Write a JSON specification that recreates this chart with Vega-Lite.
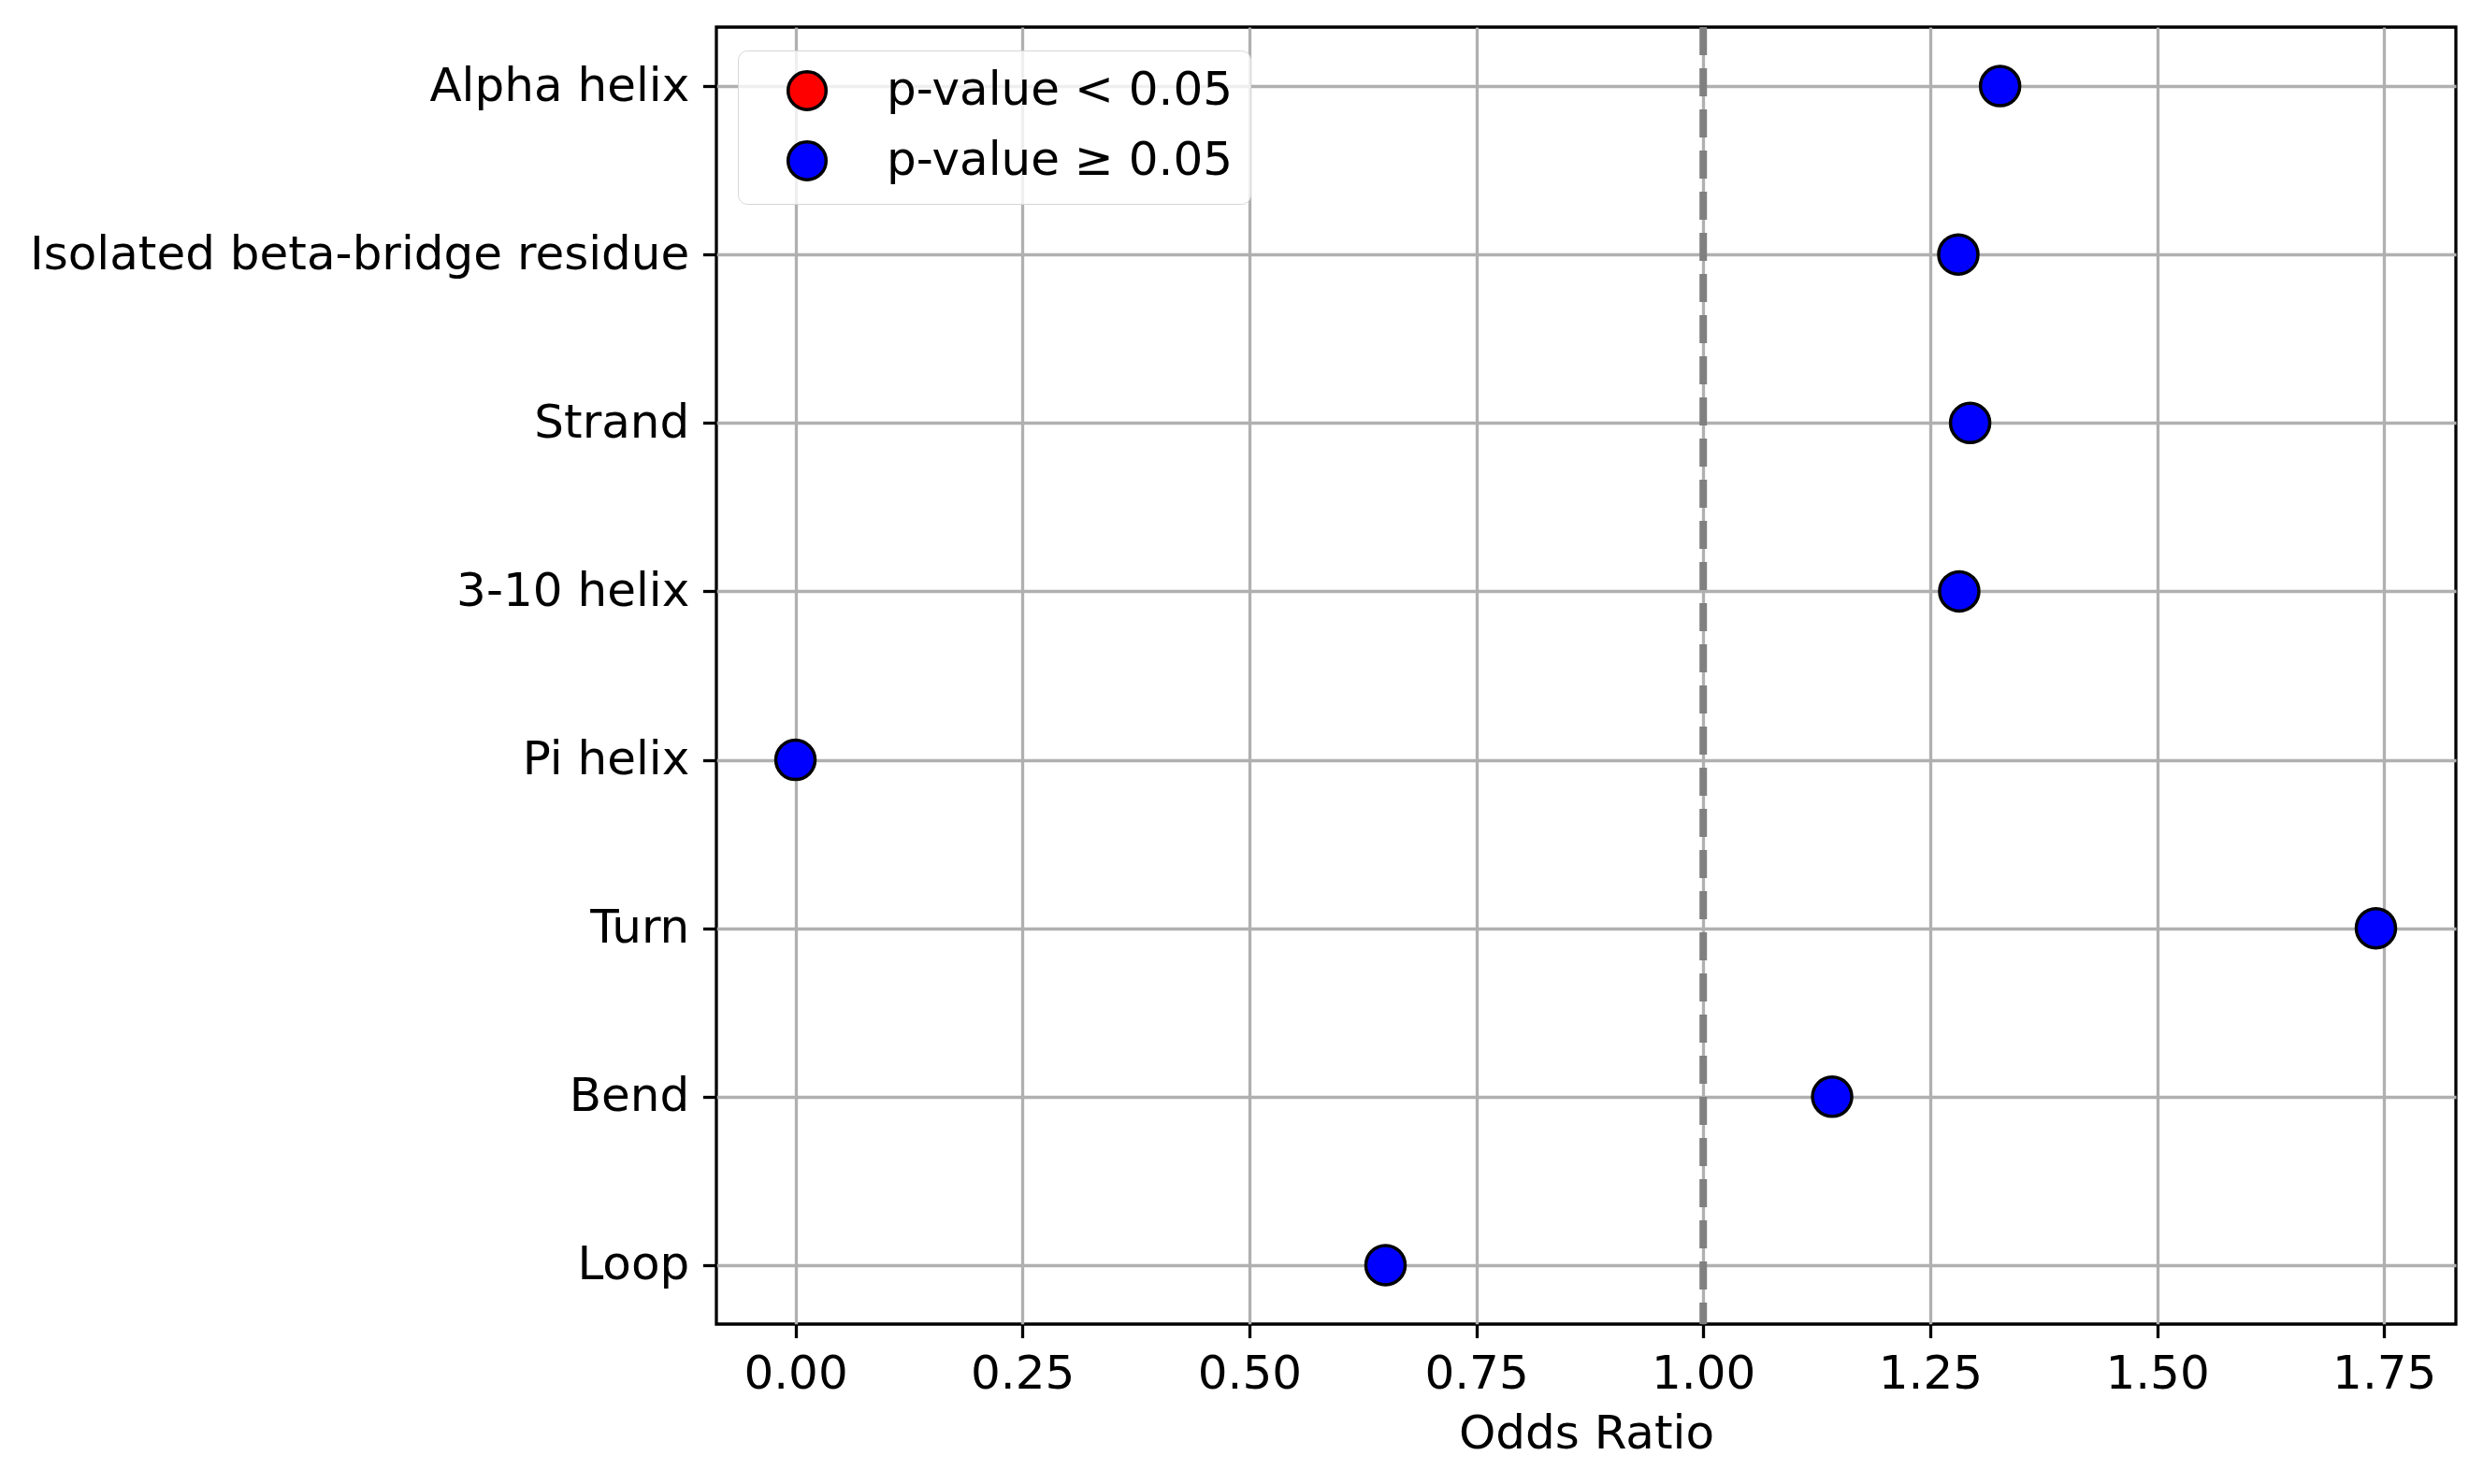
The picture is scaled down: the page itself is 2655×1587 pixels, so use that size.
{
  "$schema": "https://vega.github.io/schema/vega-lite/v6.json",
  "width": 1860,
  "height": 1387,
  "autosize": {"type": "none"},
  "padding": {"left": 766, "top": 29, "right": 29, "bottom": 171},
  "background": "white",
  "config": {
    "font": "DejaVu Sans",
    "view": {"stroke": "black", "strokeWidth": 3.3},
    "axis": {
      "domain": false,
      "grid": true,
      "gridColor": "#b0b0b0",
      "gridWidth": 3.3,
      "tickColor": "black",
      "tickWidth": 3.3,
      "tickSize": 14.6,
      "labelFont": "DejaVu Sans",
      "labelFontSize": 50,
      "labelColor": "black",
      "labelLimit": 0,
      "titleFont": "DejaVu Sans",
      "titleFontSize": 50,
      "titleFontWeight": "normal",
      "titleColor": "black",
      "zindex": 1
    }
  },
  "layer": [
    {
      "data": {"values": [{"ref": 1}]},
      "mark": {"type": "rule", "color": "#808080", "strokeWidth": 8, "strokeDash": [30, 14]},
      "encoding": {
        "x": {"field": "ref", "type": "quantitative"}
      }
    },
    {
      "data": {
        "values": [
          {"structure": "Alpha helix", "odds_ratio": 1.327, "significance": "p-value ≥ 0.05"},
          {"structure": "Isolated beta-bridge residue", "odds_ratio": 1.281, "significance": "p-value ≥ 0.05"},
          {"structure": "Strand", "odds_ratio": 1.294, "significance": "p-value ≥ 0.05"},
          {"structure": "3-10 helix", "odds_ratio": 1.282, "significance": "p-value ≥ 0.05"},
          {"structure": "Pi helix", "odds_ratio": 0.0, "significance": "p-value ≥ 0.05"},
          {"structure": "Turn", "odds_ratio": 1.741, "significance": "p-value ≥ 0.05"},
          {"structure": "Bend", "odds_ratio": 1.142, "significance": "p-value ≥ 0.05"},
          {"structure": "Loop", "odds_ratio": 0.65, "significance": "p-value ≥ 0.05"}
        ]
      },
      "mark": {"type": "point", "shape": "circle", "filled": true, "size": 1764, "stroke": "black", "strokeWidth": 3.5, "opacity": 1},
      "encoding": {
        "x": {
          "field": "odds_ratio",
          "type": "quantitative",
          "title": "Odds Ratio",
          "scale": {"domain": [-0.0871, 1.8291], "nice": false, "zero": false},
          "axis": {"values": [0, 0.25, 0.5, 0.75, 1, 1.25, 1.5, 1.75], "format": ".2f", "labelPadding": 14, "titlePadding": 14, "labelFlush": false}
        },
        "y": {
          "field": "structure",
          "type": "nominal",
          "sort": ["Alpha helix", "Isolated beta-bridge residue", "Strand", "3-10 helix", "Pi helix", "Turn", "Bend", "Loop"],
          "title": null,
          "scale": {"type": "point", "padding": 0.35},
          "axis": {"labelPadding": 14.6}
        },
        "fill": {
          "field": "significance",
          "type": "nominal",
          "scale": {"domain": ["p-value < 0.05", "p-value ≥ 0.05"], "range": ["red", "blue"]},
          "legend": {
            "title": null,
            "orient": "none",
            "legendX": 23,
            "legendY": 25,
            "zindex": 2,
            "fillColor": "rgba(255,255,255,0.8)",
            "strokeColor": "#d6d6d6",
            "cornerRadius": 10,
            "padding": 18,
            "symbolType": "circle",
            "symbolSize": 1650,
            "symbolStrokeColor": "black",
            "symbolStrokeWidth": 3.5,
            "symbolOffset": 31,
            "labelOffset": 60,
            "labelFontSize": 50,
            "labelFont": "DejaVu Sans",
            "labelColor": "black",
            "labelLimit": 0,
            "rowPadding": 19,
            "encode": {"legend": {"update": {"strokeWidth": {"value": 3.7}}}}
          }
        }
      }
    }
  ]
}
